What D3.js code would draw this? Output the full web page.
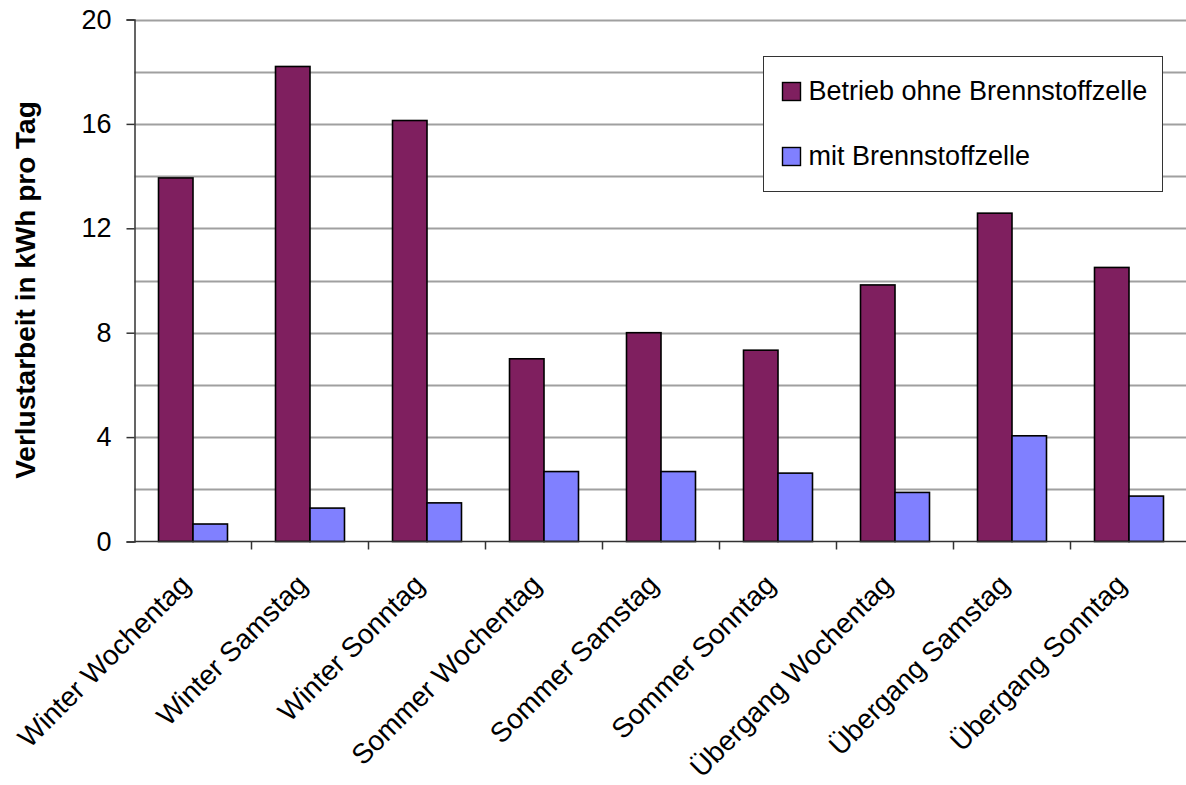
<!DOCTYPE html>
<html>
<head>
<meta charset="utf-8">
<script src="https://cdn.jsdelivr.net/npm/d3@7"></script>
<style>
  html, body { margin: 0; padding: 0; background: #ffffff; }
  svg { display: block; font-family: "Liberation Sans", Arial, sans-serif; }
</style>
</head>
<body>
<svg id="chart" width="1186" height="785"></svg>
<script>
// Day types (category axis)
const categories = [
  "Winter Wochentag", "Winter Samstag", "Winter Sonntag",
  "Sommer Wochentag", "Sommer Samstag", "Sommer Sonntag",
  "Übergang Wochentag", "Übergang Samstag", "Übergang Sonntag"
];
// Series names
const seriesNames = ["Betrieb ohne Brennstoffzelle", "mit Brennstoffzelle"];
// Loss energy in kWh per day
const ohneBZ = [13.93, 18.2, 16.13, 7.0, 8.0, 7.33, 9.83, 12.58, 10.5];
const mitBZ = [0.67, 1.28, 1.48, 2.68, 2.68, 2.62, 1.88, 4.05, 1.74];
// Y axis ticks
const yTickValues = [0, 4, 8, 12, 16, 20];
const yGridValues = [2, 4, 6, 8, 10, 12, 14, 16, 18, 20];
const yTitle = "Verlustarbeit in kWh pro Tag";

const colors = ["#7f1f5f", "#8080ff"];

const svg = d3.select("#chart");
const plot = { left: 134.5, right: 1187.5, top: 19.5, bottom: 541.5 };

const rows = categories.map((c, i) => ({ cat: c, values: [ohneBZ[i], mitBZ[i]] }));

const x0 = d3.scaleBand().domain(categories).range([plot.left, plot.right]).padding(0);
const x1 = d3.scaleBand().domain(d3.range(seriesNames.length))
  .range([0, x0.bandwidth()]).paddingInner(0).paddingOuter(0.696);
const y = d3.scaleLinear().domain([0, 20]).range([plot.bottom, plot.top]);

// Horizontal gridlines
svg.append("g").selectAll("line").data(yGridValues).join("line")
  .attr("x1", plot.left).attr("x2", plot.right)
  .attr("y1", d => Math.round(y(d)) + 0.5).attr("y2", d => Math.round(y(d)) + 0.5)
  .attr("stroke", "#a0a0a0").attr("stroke-width", 2);

// Bars
const groups = svg.append("g").selectAll("g").data(rows).join("g")
  .attr("transform", d => `translate(${x0(d.cat)},0)`);
groups.selectAll("rect").data(d => d.values.map((v, k) => ({ k, v }))).join("rect")
  .attr("x", d => x1(d.k))
  .attr("width", x1.bandwidth())
  .attr("y", d => y(d.v))
  .attr("height", d => y(0) - y(d.v))
  .attr("fill", d => colors[d.k])
  .attr("stroke", "#000").attr("stroke-width", 1.6);

// Y axis
const yAxis = svg.append("g").attr("transform", `translate(${plot.left},0)`)
  .call(d3.axisLeft(y).tickValues(yTickValues).tickSize(8).tickPadding(15).tickFormat(d3.format("d")));
yAxis.select(".domain").attr("stroke", "#333").attr("stroke-width", 1.5);
yAxis.selectAll(".tick line").attr("stroke", "#333").attr("stroke-width", 1.5);
yAxis.selectAll(".tick text").attr("font-size", 27).attr("fill", "#000")
  .attr("font-family", "Liberation Sans, Arial, sans-serif");

// X axis with ticks between categories
const xAxisG = svg.append("g");
xAxisG.append("line")
  .attr("x1", plot.left).attr("x2", plot.right)
  .attr("y1", plot.bottom).attr("y2", plot.bottom)
  .attr("stroke", "#333").attr("stroke-width", 1.5);
xAxisG.selectAll("line.tk").data(categories.slice(1)).join("line")
  .attr("class", "tk")
  .attr("x1", d => x0(d)).attr("x2", d => x0(d))
  .attr("y1", plot.bottom).attr("y2", plot.bottom + 8)
  .attr("stroke", "#333").attr("stroke-width", 1.5);

// Rotated category labels
xAxisG.selectAll("text").data(categories).join("text")
  .attr("transform", d => `translate(${x0(d) + x0.bandwidth() / 2 - 1},${plot.bottom + 45}) rotate(-45)`)
  .attr("text-anchor", "end")
  .attr("font-size", 28)
  .attr("fill", "#000")
  .text(d => d);

// Y axis title
svg.append("text")
  .attr("transform", `translate(35,290) rotate(-90)`)
  .attr("text-anchor", "middle")
  .attr("font-size", 28).attr("font-weight", "bold").attr("fill", "#000")
  .text(yTitle);

// Legend
const legend = svg.append("g").attr("transform", "translate(763.5,56.5)");
legend.append("rect").attr("width", 399).attr("height", 135)
  .attr("fill", "#fff").attr("stroke", "#333").attr("stroke-width", 1);
const items = legend.selectAll("g").data(seriesNames).join("g")
  .attr("transform", (d, i) => `translate(19,${26 + i * 65})`);
items.append("rect").attr("width", 18).attr("height", 18)
  .attr("fill", (d, i) => colors[i]).attr("stroke", "#000").attr("stroke-width", 1.4);
items.append("text").attr("x", 26).attr("y", 17)
  .attr("font-size", 27).attr("fill", "#000").text(d => d);
</script>
</body>
</html>
